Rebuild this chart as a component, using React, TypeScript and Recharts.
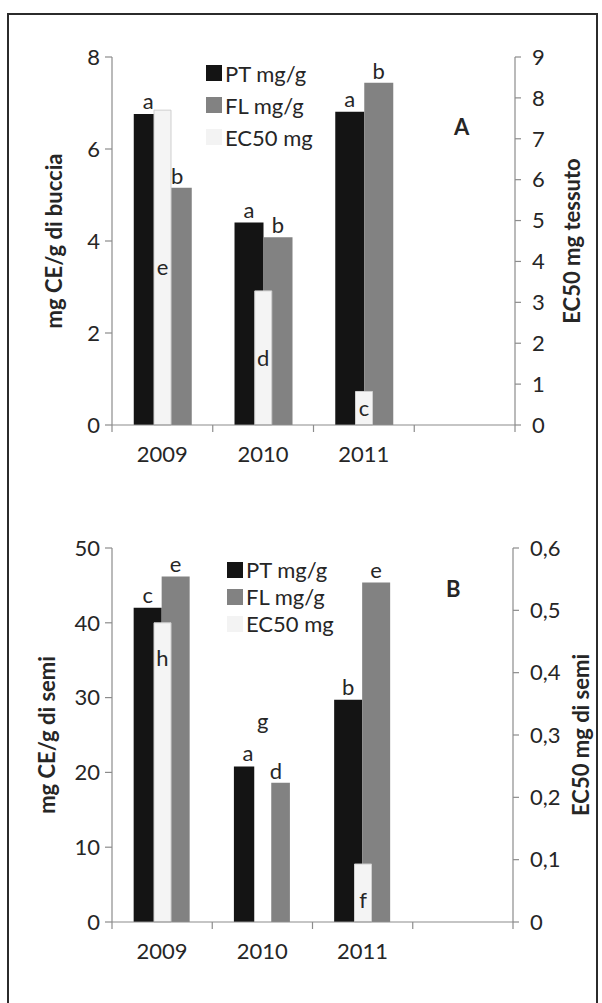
import { BarChart, Bar, XAxis, YAxis, Legend, LabelList, Cell } from 'recharts';

const FONT = 'Lato, "Open Sans", sans-serif';
const TEXT = '#262626';
const AXIS = '#8c8c8c';

const years = ['2009', '2010', '2011', ''];
const legendOrder = ['PT mg/g', 'FL mg/g', 'EC50 mg'];

// Panel A - buccia
const ptBuccia = [6.76, 4.4, 6.81, null];
const flBuccia = [5.16, 4.08, 7.44, null];
const ecBuccia = [7.7, 3.28, 0.82, null];
const ptLetBuccia = ['a', 'a', 'a', ''];
const flLetBuccia = ['b', 'b', 'b', ''];
const ecLetBuccia = ['e', 'd', 'c', ''];
const leftTicksA = [0, 2, 4, 6, 8];
const rightTicksA = [0, 1, 2, 3, 4, 5, 6, 7, 8, 9];

// Panel B - semi
const ptSemi = [42, 20.8, 29.7, null];
const flSemi = [46.2, 18.6, 45.4, null];
const ecSemi = [0.48, 0.38, 0.093, null];
const ptLetSemi = ['c', 'a', 'b', ''];
const flLetSemi = ['e', 'd', 'e', ''];
const ecLetSemi = ['h', 'g', 'f', ''];
const leftTicksB = [0, 10, 20, 30, 40, 50];
const rightTicksB = [0, 0.1, 0.2, 0.3, 0.4, 0.5, 0.6];

const buildRows = (pt: any[], fl: any[], ec: any[], ptL: string[], flL: string[], ecL: string[]) =>
  years.map((year, i) => ({ year, pt: pt[i], fl: fl[i], ec: ec[i], ptL: ptL[i], flL: flL[i], ecL: ecL[i] }));

const rowsA = buildRows(ptBuccia, flBuccia, ecBuccia, ptLetBuccia, flLetBuccia, ecLetBuccia);
const rowsB = buildRows(ptSemi, flSemi, ecSemi, ptLetSemi, flLetSemi, ecLetSemi);

const W = 602;
const AXIS_W = 60;

const commaFmt = (v: number) => (v === 0 ? '0' : v.toFixed(1).replace('.', ','));

const YearTick = (props: any) => {
  const { x, y, payload, index, half } = props;
  return (
    <g>
      <line x1={x - half} x2={x - half} y1={y - 7} y2={y} stroke={AXIS} strokeWidth={1.2} />
      {index === years.length - 1 && (
        <line x1={x + half} x2={x + half} y1={y - 7} y2={y} stroke={AXIS} strokeWidth={1.2} />
      )}
      <text x={x} y={y + 30} textAnchor="middle" fill={TEXT} fontSize={22} fontFamily={FONT}>
        {payload.value}
      </text>
    </g>
  );
};

const legendContent = (rowHeight: number) => (props: any) => {
  const items = [...(props.payload ?? [])].sort(
    (a: any, b: any) => legendOrder.indexOf(a.value) - legendOrder.indexOf(b.value),
  );
  return (
    <div style={{ fontFamily: FONT, fontSize: 22, color: TEXT }}>
      {items.map((item: any) => (
        <div key={item.value} style={{ display: 'flex', alignItems: 'center', height: rowHeight, whiteSpace: 'nowrap' }}>
          <span style={{ display: 'inline-block', width: 16, height: 16, background: item.color, marginRight: 3 }} />
          <span>{item.value}</span>
        </div>
      ))}
    </div>
  );
};

type PanelProps = {
  rows: any[];
  height: number;
  margin: { top: number; right: number; bottom: number; left: number };
  leftTicks: number[];
  rightTicks: number[];
  rightFmt?: (v: number) => string;
  leftTitle: string;
  rightTitle: string;
  leftTitleDx: number;
  rightTitleDx: number;
  legendLeft: number;
  legendTop: number;
  legendRow: number;
  ecPosition: 'center' | 'insideTop';
  ecOffset: number;
  ecFills: string[];
  ecStrokes: string[];
};

const Panel = (p: PanelProps) => {
  const plotW = W - p.margin.left - p.margin.right - 2 * AXIS_W;
  const half = plotW / years.length / 2;
  const letterStyle = { fill: TEXT, fontSize: 22, fontFamily: FONT };
  const titleStyle = { fill: TEXT, fontSize: 22, fontFamily: FONT, fontWeight: 700 };
  return (
    <BarChart width={W} height={p.height} data={p.rows} margin={p.margin} barCategoryGap="21.6%" barGap={0}>
      <XAxis xAxisId="ec" dataKey="year" hide height={0} />
      <XAxis
        xAxisId="main"
        dataKey="year"
        interval={0}
        stroke={AXIS}
        strokeWidth={1.2}
        tickLine={false}
        tickSize={7}
        tickMargin={0}
        height={30}
        tick={(t: any) => <YearTick {...t} half={half} />}
      />
      <YAxis
        yAxisId="left"
        width={AXIS_W}
        domain={[p.leftTicks[0], p.leftTicks[p.leftTicks.length - 1]]}
        ticks={p.leftTicks}
        interval={0}
        stroke={AXIS}
        strokeWidth={1.2}
        tickSize={7}
        tickMargin={5}
        tick={{ fill: TEXT, fontSize: 22, fontFamily: FONT }}
        label={{ value: p.leftTitle, angle: -90, position: 'center', dx: p.leftTitleDx, style: titleStyle }}
      />
      <YAxis
        yAxisId="right"
        orientation="right"
        width={AXIS_W}
        domain={[p.rightTicks[0], p.rightTicks[p.rightTicks.length - 1]]}
        ticks={p.rightTicks}
        interval={0}
        stroke={AXIS}
        strokeWidth={1.2}
        tickSize={6}
        tickMargin={11}
        tickFormatter={p.rightFmt}
        tick={{ fill: TEXT, fontSize: 22, fontFamily: FONT }}
        label={{ value: p.rightTitle, angle: -90, position: 'center', dx: p.rightTitleDx, style: titleStyle }}
      />
      <Legend
        layout="vertical"
        align="center"
        verticalAlign="middle"
        content={legendContent(p.legendRow)}
        wrapperStyle={{ left: p.legendLeft, top: p.legendTop, width: 'auto' }}
      />
      <Bar xAxisId="main" yAxisId="left" dataKey="pt" name="PT mg/g" fill="#141414" isAnimationActive={false}>
        <LabelList dataKey="ptL" position="top" offset={5} {...letterStyle} />
      </Bar>
      <Bar xAxisId="main" yAxisId="left" dataKey="fl" name="FL mg/g" fill="#828282" isAnimationActive={false}>
        <LabelList dataKey="flL" position="top" offset={4} {...letterStyle} />
      </Bar>
      <Bar xAxisId="ec" yAxisId="right" dataKey="ec" name="EC50 mg" fill="#f3f3f3" barSize={17} isAnimationActive={false}>
        {p.rows.map((r, i) => (
          <Cell key={r.year + i} fill={p.ecFills[i]} stroke={p.ecStrokes[i]} strokeWidth={1} />
        ))}
        <LabelList dataKey="ecL" position={p.ecPosition} offset={p.ecOffset} {...letterStyle} />
      </Bar>
    </BarChart>
  );
};

const panelLetter = { position: 'absolute' as const, fontFamily: FONT, fontSize: 22, fontWeight: 700, color: TEXT };

export default function App() {
  return (
    <div style={{ position: 'fixed', left: 0, top: 0, width: 602, height: 1003, overflow: 'hidden', background: '#fff' }}>
      <div style={{ position: 'absolute', left: 7, top: 13, width: 587, height: 1000, border: '2px solid #2b2b2b' }} />
      <div style={{ position: 'absolute', left: 0, top: 0 }}>
        <Panel
          rows={rowsA}
          height={480}
          margin={{ top: 57, right: 27, bottom: 25, left: 52 }}
          leftTicks={leftTicksA}
          rightTicks={rightTicksA}
          leftTitle="mg CE/g di buccia"
          rightTitle="EC50 mg tessuto"
          leftTitleDx={-28}
          rightTitleDx={27}
          legendLeft={206}
          legendTop={57}
          legendRow={32}
          ecPosition="center"
          ecOffset={0}
          ecFills={['#f4f4f4', '#f4f4f4', '#f4f4f4', '#f4f4f4']}
          ecStrokes={['#cfcfcf', '#cfcfcf', '#cfcfcf', '#cfcfcf']}
        />
      </div>
      <div style={{ ...panelLetter, left: 454, top: 113 }}>A</div>
      <div style={{ position: 'absolute', left: 0, top: 480 }}>
        <Panel
          rows={rowsB}
          height={523}
          margin={{ top: 68, right: 29, bottom: 51, left: 52 }}
          leftTicks={leftTicksB}
          rightTicks={rightTicksB}
          rightFmt={commaFmt}
          leftTitle="mg CE/g di semi"
          rightTitle="EC50 mg di semi"
          leftTitleDx={-35}
          rightTitleDx={38}
          legendLeft={227}
          legendTop={76}
          legendRow={27}
          ecPosition="insideTop"
          ecOffset={28}
          ecFills={['#f4f4f4', '#ffffff', '#f4f4f4', '#f4f4f4']}
          ecStrokes={['#cfcfcf', 'none', '#cfcfcf', '#cfcfcf']}
        />
      </div>
      <div style={{ ...panelLetter, left: 446, top: 575 }}>B</div>
    </div>
  );
}
